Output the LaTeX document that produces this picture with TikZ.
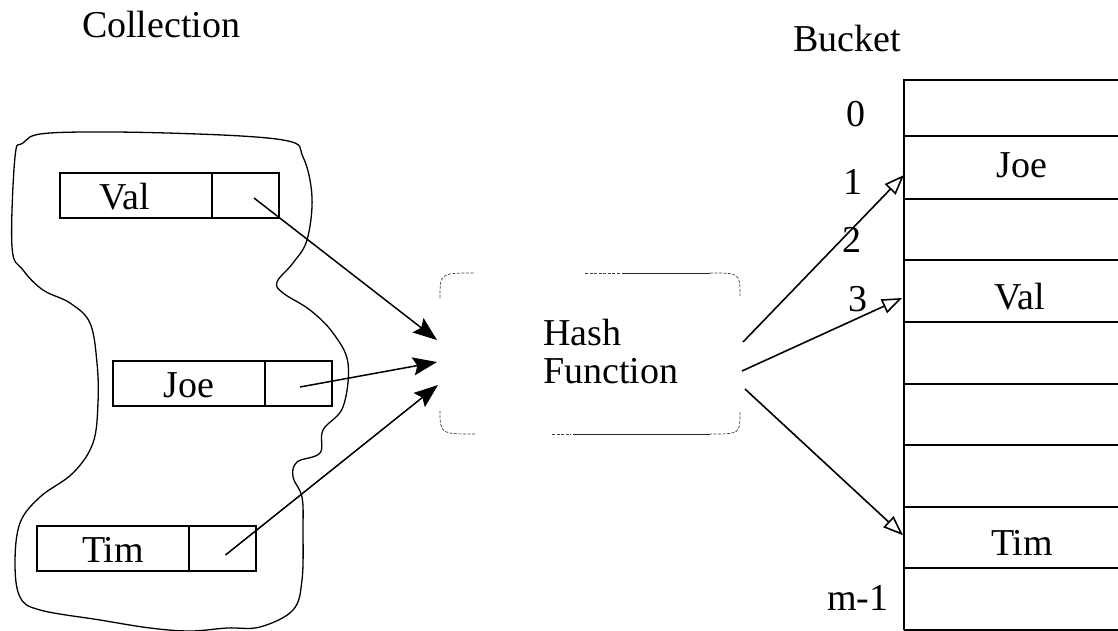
\documentclass[tikz,border=0pt]{standalone}
\usepackage{fontspec}
\setmainfont{Liberation Serif}
\usetikzlibrary{arrows.meta,calc}

\begin{document}
\begin{tikzpicture}[x=1pt,y=-1pt,
  every node/.style={font=\fontsize{38}{38}\selectfont, inner sep=0pt, outer sep=0pt},
  cell/.style={draw, line width=2pt, minimum height=45pt, text height=27pt, text depth=0pt},
  namecell/.style={cell, minimum width=152pt},
  ptrcell/.style={cell, minimum width=67pt},
  ptr/.style={line width=1.5pt, -{Stealth[length=24pt,width=18pt,inset=4pt]}},
  hashout/.style={line width=1.6pt, -{Triangle[open,length=20pt,width=15pt,line width=1.6pt]}},
  slot/.style={minimum width=214pt, inner sep=0pt},
  rule/.style={line width=2pt},
  faint/.style={line width=0.7pt, black!75, dash pattern=on 3pt off 1.5pt},
  edge/.style={line width=0.9pt, black!85},
]
\useasboundingbox (0,0) rectangle (1118,631);

% titles
\node[anchor=base west] (coltitle) at (82,38) {Collection};
\node[anchor=base west] (buctitle) at (793,52) {Bucket};

% the collection outline
\draw[line width=1.3pt] plot[smooth cycle, tension=0.6] coordinates {
  (15,157) (12,247) (23,270) (43,290) (70,303) (90,323) (97,363) (98,403)
  (93,443) (73,473) (40,497) (20,523) (15,563) (20,597) (40,610) (100,620)
  (150,628) (190,631) (227,628) (260,627) (293,610) (302,580) (303,530)
  (302,497) (293,477) (297,462) (320,453) (323,430) (343,407) (348,363)
  (333,333) (310,310) (283,293) (277,282) (293,263) (307,240) (312,197)
  (303,157) (283,140) (167,133) (50,133) (23,143)};

% records: name cell + pointer cell
\node[namecell, anchor=north west] (valn) at (60,173) {Val\kern22pt};
\node[ptrcell, anchor=west] (valp) at (valn.east) {};
\node[namecell, anchor=north west] (joen) at (113,361) {Joe};
\node[ptrcell, anchor=west] (joep) at (joen.east) {};
\node[namecell, anchor=north west] (timn) at (37,526) {Tim};
\node[ptrcell, anchor=west] (timp) at (timn.east) {};

% hash function
\node[minimum width=300pt, minimum height=161pt] (hash) at (590,353.5) {};
\node[anchor=base west, align=left] (hashtext) at (543,383) {Hash\\Function};
\draw[faint] (585,273) -- (620,273);
\draw[edge] (622,273) -- (710,273);
\draw[faint] (710,273) .. controls (740,273) .. (740,296);
\draw[faint] (740,412) .. controls (740,434) .. (710,434);
\draw[edge] (573,434) -- (710,434);
\draw[faint] (552,434) -- (571,434);
\draw[faint] (475,434) .. controls (440,434) .. (440,410);
\draw[faint] (440,298) .. controls (440,273) .. (475,273);

% bucket array
\foreach \i/\t/\b in {0/80/136.5,1/136.5/198.5,2/198.5/260,3/260/322,4/322/383.5,
                      5/383.5/445,6/445/506.5,7/506.5/568,8/568/630} {
  \node[slot, minimum height={(\b-\t)*1pt}, anchor=north west] (r\i) at (904,\t) {};
  \draw[rule] (r\i.south west) -- (r\i.south east);
}
\draw[rule] (r8.south west) -- (r0.north west) -- (r0.north east);

\node[anchor=base] (bjoe) at (1022,178) {Joe};
\node[anchor=base] (bval) at (1020,309) {Val};
\node[anchor=base] (btim) at (1022,555) {Tim};

% slot indices
\node[anchor=base] (i0) at (856,127) {0};
\node[anchor=base] (i1) at (853,194) {1};
\node[anchor=base] (i2) at (852,252) {2};
\node[anchor=base] (i3) at (858,311) {3};
\node[anchor=base] (im) at (858,610) {m-1};

% pointers into the hash function
\draw[ptr] ($(valp.center)+(8.5,2.5)$) -- ($(hash.west)+(-3,-13.5)$);
\draw[ptr] ($(joep.center)+(1.5,3.5)$) -- ($(hash.west)+(-3,8.5)$);
\draw[ptr] ($(timp.center)+(3,6.5)$) -- ($(hash.west)+(-2,31.5)$);

% hash results into the bucket slots
\draw[hashout] ($(hash.east)+(3,-11.5)$) -- ($(r1.west)+(0,7.5)$);
\draw[hashout] ($(hash.east)+(2,17.5)$) -- ($(r3.west)+(-2,7)$);
\draw[hashout] ($(hash.east)+(5,35.5)$) -- ($(r7.west)+(-1,-2)$);
\end{tikzpicture}
\end{document}
